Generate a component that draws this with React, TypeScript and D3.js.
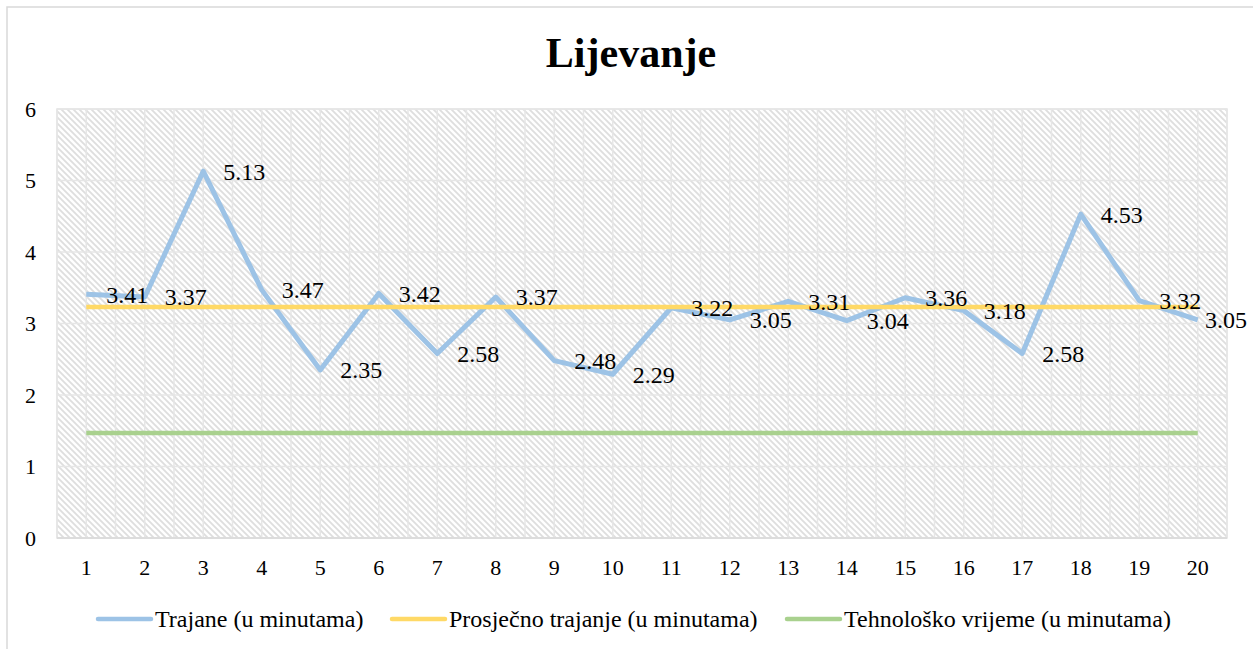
import React from "react";
import * as d3 from "d3";

const categories = ["1","2","3","4","5","6","7","8","9","10","11","12","13","14","15","16","17","18","19","20"];
const durations = [3.41,3.37,5.13,3.47,2.35,3.42,2.58,3.37,2.48,2.29,3.22,3.05,3.31,3.04,3.36,3.18,2.58,4.53,3.32,3.05];
const averageDuration = [3.23,3.23,3.23,3.23,3.23,3.23,3.23,3.23,3.23,3.23,3.23,3.23,3.23,3.23,3.23,3.23,3.23,3.23,3.23,3.23];
const techTime = [1.47,1.47,1.47,1.47,1.47,1.47,1.47,1.47,1.47,1.47,1.47,1.47,1.47,1.47,1.47,1.47,1.47,1.47,1.47,1.47];
const yTicks = [0,1,2,3,4,5,6];
const seriesNames = ["Trajane (u minutama)", "Prosječno trajanje (u minutama)", "Tehnološko vrijeme (u minutama)"];

const W = 1253, H = 649;
const FONT = '"Liberation Serif", "Times New Roman", Times, serif';
const BLUE = "#9DC3E6", YELLOW = "#FFD966", GREEN = "#A9D18E";
const LABEL_SIZE = 24;

export default function App() {
  const x = d3.scaleBand<string>().domain(categories).range([57, 1227]).padding(0);
  const bw = x.bandwidth();
  const cx = (c: string) => (x(c) as number) + bw / 2;
  const y = d3.scaleLinear().domain([0, 6]).range([538, 109]);
  const line = (vals: number[]) =>
    d3.line<number>().x((_, i) => cx(categories[i])).y((v) => y(v))(vals) as string;

  const vGrid: number[] = [];
  categories.forEach((c) => { vGrid.push(x(c) as number); vGrid.push(cx(c)); });
  vGrid.push(1227);

  const legendItems = [
    { name: seriesNames[0], color: BLUE, x0: 98, x1: 151, tx: 155 },
    { name: seriesNames[1], color: YELLOW, x0: 392, x1: 445, tx: 449 },
    { name: seriesNames[2], color: GREEN, x0: 787, x1: 840, tx: 844 },
  ];
  const ts = { fontFamily: FONT };
  const labelW = LABEL_SIZE * 1.75;

  return (
    <svg width={W} height={H} style={{ position: "absolute", left: 0, top: 0, display: "block", background: "#fff", fontFamily: FONT }}>
      <defs>
        <pattern id="hatch" patternUnits="userSpaceOnUse" width="6" height="6">
          <rect width="6" height="6" fill="#fff" />
          <path d="M-1,-1L7,7M5,-1L7,1M-1,5L1,7" stroke="#dedede" strokeWidth="1.8" />
        </pattern>
      </defs>
      <rect x={7} y={7} width={1250} height={650} fill="#fff" stroke="#d9d9d9" strokeWidth={1.5} />
      <text x={631} y={67} textAnchor="middle" fontSize={42} fontWeight="bold" fill="#000" style={ts}>Lijevanje</text>

      <rect x={57} y={109} width={1170} height={429} fill="url(#hatch)" stroke="#e3e3e3" strokeWidth={1.5} />
      {yTicks.map((t) => (
        <line key={"h" + t} x1={57} x2={1227} y1={y(t)} y2={y(t)} stroke="#e6e6e6" strokeWidth={1.5} />
      ))}
      {vGrid.map((gx, i) => (
        <line key={"v" + i} x1={gx} x2={gx} y1={109} y2={538} stroke="#e6e6e6" strokeWidth={1.5} />
      ))}
      <line x1={57} x2={1227} y1={538} y2={538} stroke="#d9d9d9" strokeWidth={1.5} />

      {yTicks.map((t) => (
        <text key={"yt" + t} x={36} y={y(t)} dy="0.35em" textAnchor="end" fontSize={22} fill="#000" style={ts}>{t}</text>
      ))}
      {categories.map((c) => (
        <text key={"xt" + c} x={cx(c)} y={575} textAnchor="middle" fontSize={22} fill="#000" style={ts}>{c}</text>
      ))}

      <path d={line(durations)} fill="none" stroke={BLUE} strokeWidth={5} strokeLinejoin="round" />
      <path d={line(averageDuration)} fill="none" stroke={YELLOW} strokeWidth={4.5} />
      <path d={line(techTime)} fill="none" stroke={GREEN} strokeWidth={4.5} />

      {durations.map((v, i) => (
        <text key={"dl" + i} x={Math.min(cx(categories[i]) + 20, 1247 - labelW)} y={y(v)} dy="0.35em" fontSize={LABEL_SIZE} fill="#000" style={ts}>{v.toFixed(2)}</text>
      ))}

      {legendItems.map((it) => (
        <g key={it.name}>
          <line x1={it.x0} x2={it.x1} y1={619} y2={619} stroke={it.color} strokeWidth={4.5} strokeLinecap="round" />
          <text x={it.tx} y={619} dy="0.35em" fontSize={24} fill="#000" style={ts}>{it.name}</text>
        </g>
      ))}
    </svg>
  );
}
